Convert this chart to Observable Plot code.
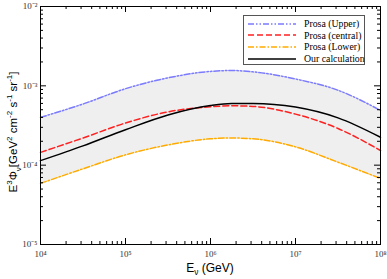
<!DOCTYPE html>
<html>
<head>
<meta charset="utf-8">
<script src="https://cdn.jsdelivr.net/npm/d3@7"></script>
<script src="https://cdn.jsdelivr.net/npm/@observablehq/plot@0.6"></script>
<style>
  body { margin: 0; background: #fff; }
  #wrap { position: relative; width: 387px; height: 279px; }
  #ylab { position: absolute; left: 14px; top: 132px; transform: translate(-50%, -50%) rotate(-90deg); font-family: "Liberation Sans", Arial, sans-serif; font-size: 11.5px; white-space: nowrap; color: #000; }
  #xlab { position: absolute; left: 210px; top: 261px; transform: translateX(-50%); font-family: "Liberation Sans", Arial, sans-serif; font-size: 12px; white-space: nowrap; }
  #legend { position: absolute; left: 243px; top: 15px; width: 122px; height: 50px; border: 1px solid #555; background: #fff; box-sizing: border-box; font-family: "Liberation Serif", serif; font-size: 9.8px; }
  .row { position: absolute; left: 4px; height: 11px; display: flex; align-items: center; }
  .row span { margin-left: 8px; white-space: nowrap; }
  sup, sub { font-size: 70%; }
</style>
</head>
<body>
<div id="wrap">
  <div id="chart"></div>
  <div id="ylab">E<sup>3</sup>Φ<sub>ν</sub>[GeV<sup>2</sup> cm<sup>-2</sup> s<sup>-1</sup> sr<sup>-1</sup>]</div>
  <div id="xlab">E<sub>ν</sub> (GeV)</div>
  <div id="legend"></div>
</div>
<script>
const logE    = [4, 4.5, 5, 5.5, 6, 6.25, 6.5, 7, 7.5, 8];
const upper   = [4.0e-4, 5.9e-4, 9.2e-4, 1.26e-3, 1.52e-3, 1.56e-3, 1.5e-3, 1.22e-3, 8.8e-4, 4.9e-4];
const central = [1.45e-4, 2.2e-4, 3.4e-4, 4.7e-4, 5.45e-4, 5.6e-4, 5.5e-4, 4.4e-4, 2.9e-4, 1.53e-4];
const lower   = [5.9e-5, 9.0e-5, 1.35e-4, 1.8e-4, 2.15e-4, 2.2e-4, 2.15e-4, 1.7e-4, 1.09e-4, 6.8e-5];
const ours    = [1.14e-4, 1.75e-4, 2.8e-4, 4.3e-4, 5.65e-4, 6.0e-4, 6.0e-4, 5.4e-4, 3.95e-4, 2.25e-4];

const xMajor = [1e4, 1e5, 1e6, 1e7, 1e8];
const yMajor = [1e-5, 1e-4, 1e-3, 1e-2];
const supMap = {"-":"⁻","0":"⁰","1":"¹","2":"²","3":"³","4":"⁴","5":"⁵","6":"⁶","7":"⁷","8":"⁸","9":"⁹"};
const fmt = d => "10" + String(Math.round(Math.log10(d))).split("").map(c => supMap[c]).join("");

const series = [
  {name: "Prosa (Upper)", values: upper, stroke: "#7b7bff", dash: "6,2,1.5,2,1.5,2"},
  {name: "Prosa (central)", values: central, stroke: "#ff2020", dash: "6,3"},
  {name: "Prosa (Lower)", values: lower, stroke: "#ffaa00", dash: "6,2,1.5,2"},
  {name: "Our calculation", values: ours, stroke: "#000", dash: null}
];

const rows = logE.map((l, i) => ({E: Math.pow(10, l), up: upper[i], lo: lower[i]}));

function minors(lo, hi) {
  const out = [];
  for (let e = lo; e < hi; e++) for (let k = 2; k <= 9; k++) out.push(k * Math.pow(10, e));
  return out;
}
const xMinor = minors(4, 8);
const yMinor = minors(-5, -2);

const mT = 6, mB = 35, mL = 40, mR = 7, H = 279, W = 387;
const innerH = H - mT - mB, innerW = W - mL - mR;

const marks = [
  Plot.areaY(rows, {x: "E", y1: "lo", y2: "up", fill: "#efefef", curve: "monotone-x"}),
];
for (const s of series) {
  const data = logE.map((l, i) => ({E: Math.pow(10, l), v: s.values[i]}));
  marks.push(Plot.line(data, {x: "E", y: "v", stroke: s.stroke, strokeWidth: 1.5, strokeDasharray: s.dash, curve: "monotone-x"}));
}
marks.push(
  Plot.tickX(xMajor, {x: d => d, insetTop: innerH - 6, stroke: "#000"}),
  Plot.tickX(xMajor, {x: d => d, insetBottom: innerH - 6, stroke: "#000"}),
  Plot.tickX(xMinor, {x: d => d, insetTop: innerH - 3, stroke: "#000"}),
  Plot.tickX(xMinor, {x: d => d, insetBottom: innerH - 3, stroke: "#000"}),
  Plot.tickY(yMajor, {y: d => d, insetRight: innerW - 6, stroke: "#000"}),
  Plot.tickY(yMajor, {y: d => d, insetLeft: innerW - 6, stroke: "#000"}),
  Plot.tickY(yMinor, {y: d => d, insetRight: innerW - 3, stroke: "#000"}),
  Plot.tickY(yMinor, {y: d => d, insetLeft: innerW - 3, stroke: "#000"}),
  Plot.axisX({ticks: xMajor, tickSize: 0, tickPadding: 6, tickFormat: fmt, label: null, fill: "#333"}),
  Plot.axisY({ticks: yMajor, tickSize: 0, tickPadding: 3, tickFormat: fmt, label: null, fill: "#333"}),
  Plot.frame({stroke: "#000", strokeWidth: 1})
);

const chart = Plot.plot({
  width: W, height: H,
  marginTop: mT, marginBottom: mB, marginLeft: mL, marginRight: mR,
  x: {type: "log", domain: [1e4, 1e8]},
  y: {type: "log", domain: [1e-5, 1e-2]},
  style: {fontFamily: "Liberation Serif, serif", fontSize: "9px", background: "#fff"},
  marks
});
document.getElementById("chart").appendChild(chart);

const leg = document.getElementById("legend");
series.forEach((s, i) => {
  const row = document.createElement("div");
  row.className = "row";
  row.style.top = (2 + i * 11.7) + "px";
  row.innerHTML = `<svg width="48" height="6"><line x1="0" y1="3" x2="48" y2="3" stroke="${s.stroke}" stroke-width="1.5" ${s.dash ? `stroke-dasharray="${s.dash}"` : ""}/></svg><span>${s.name}</span>`;
  leg.appendChild(row);
});
</script>
</body>
</html>
